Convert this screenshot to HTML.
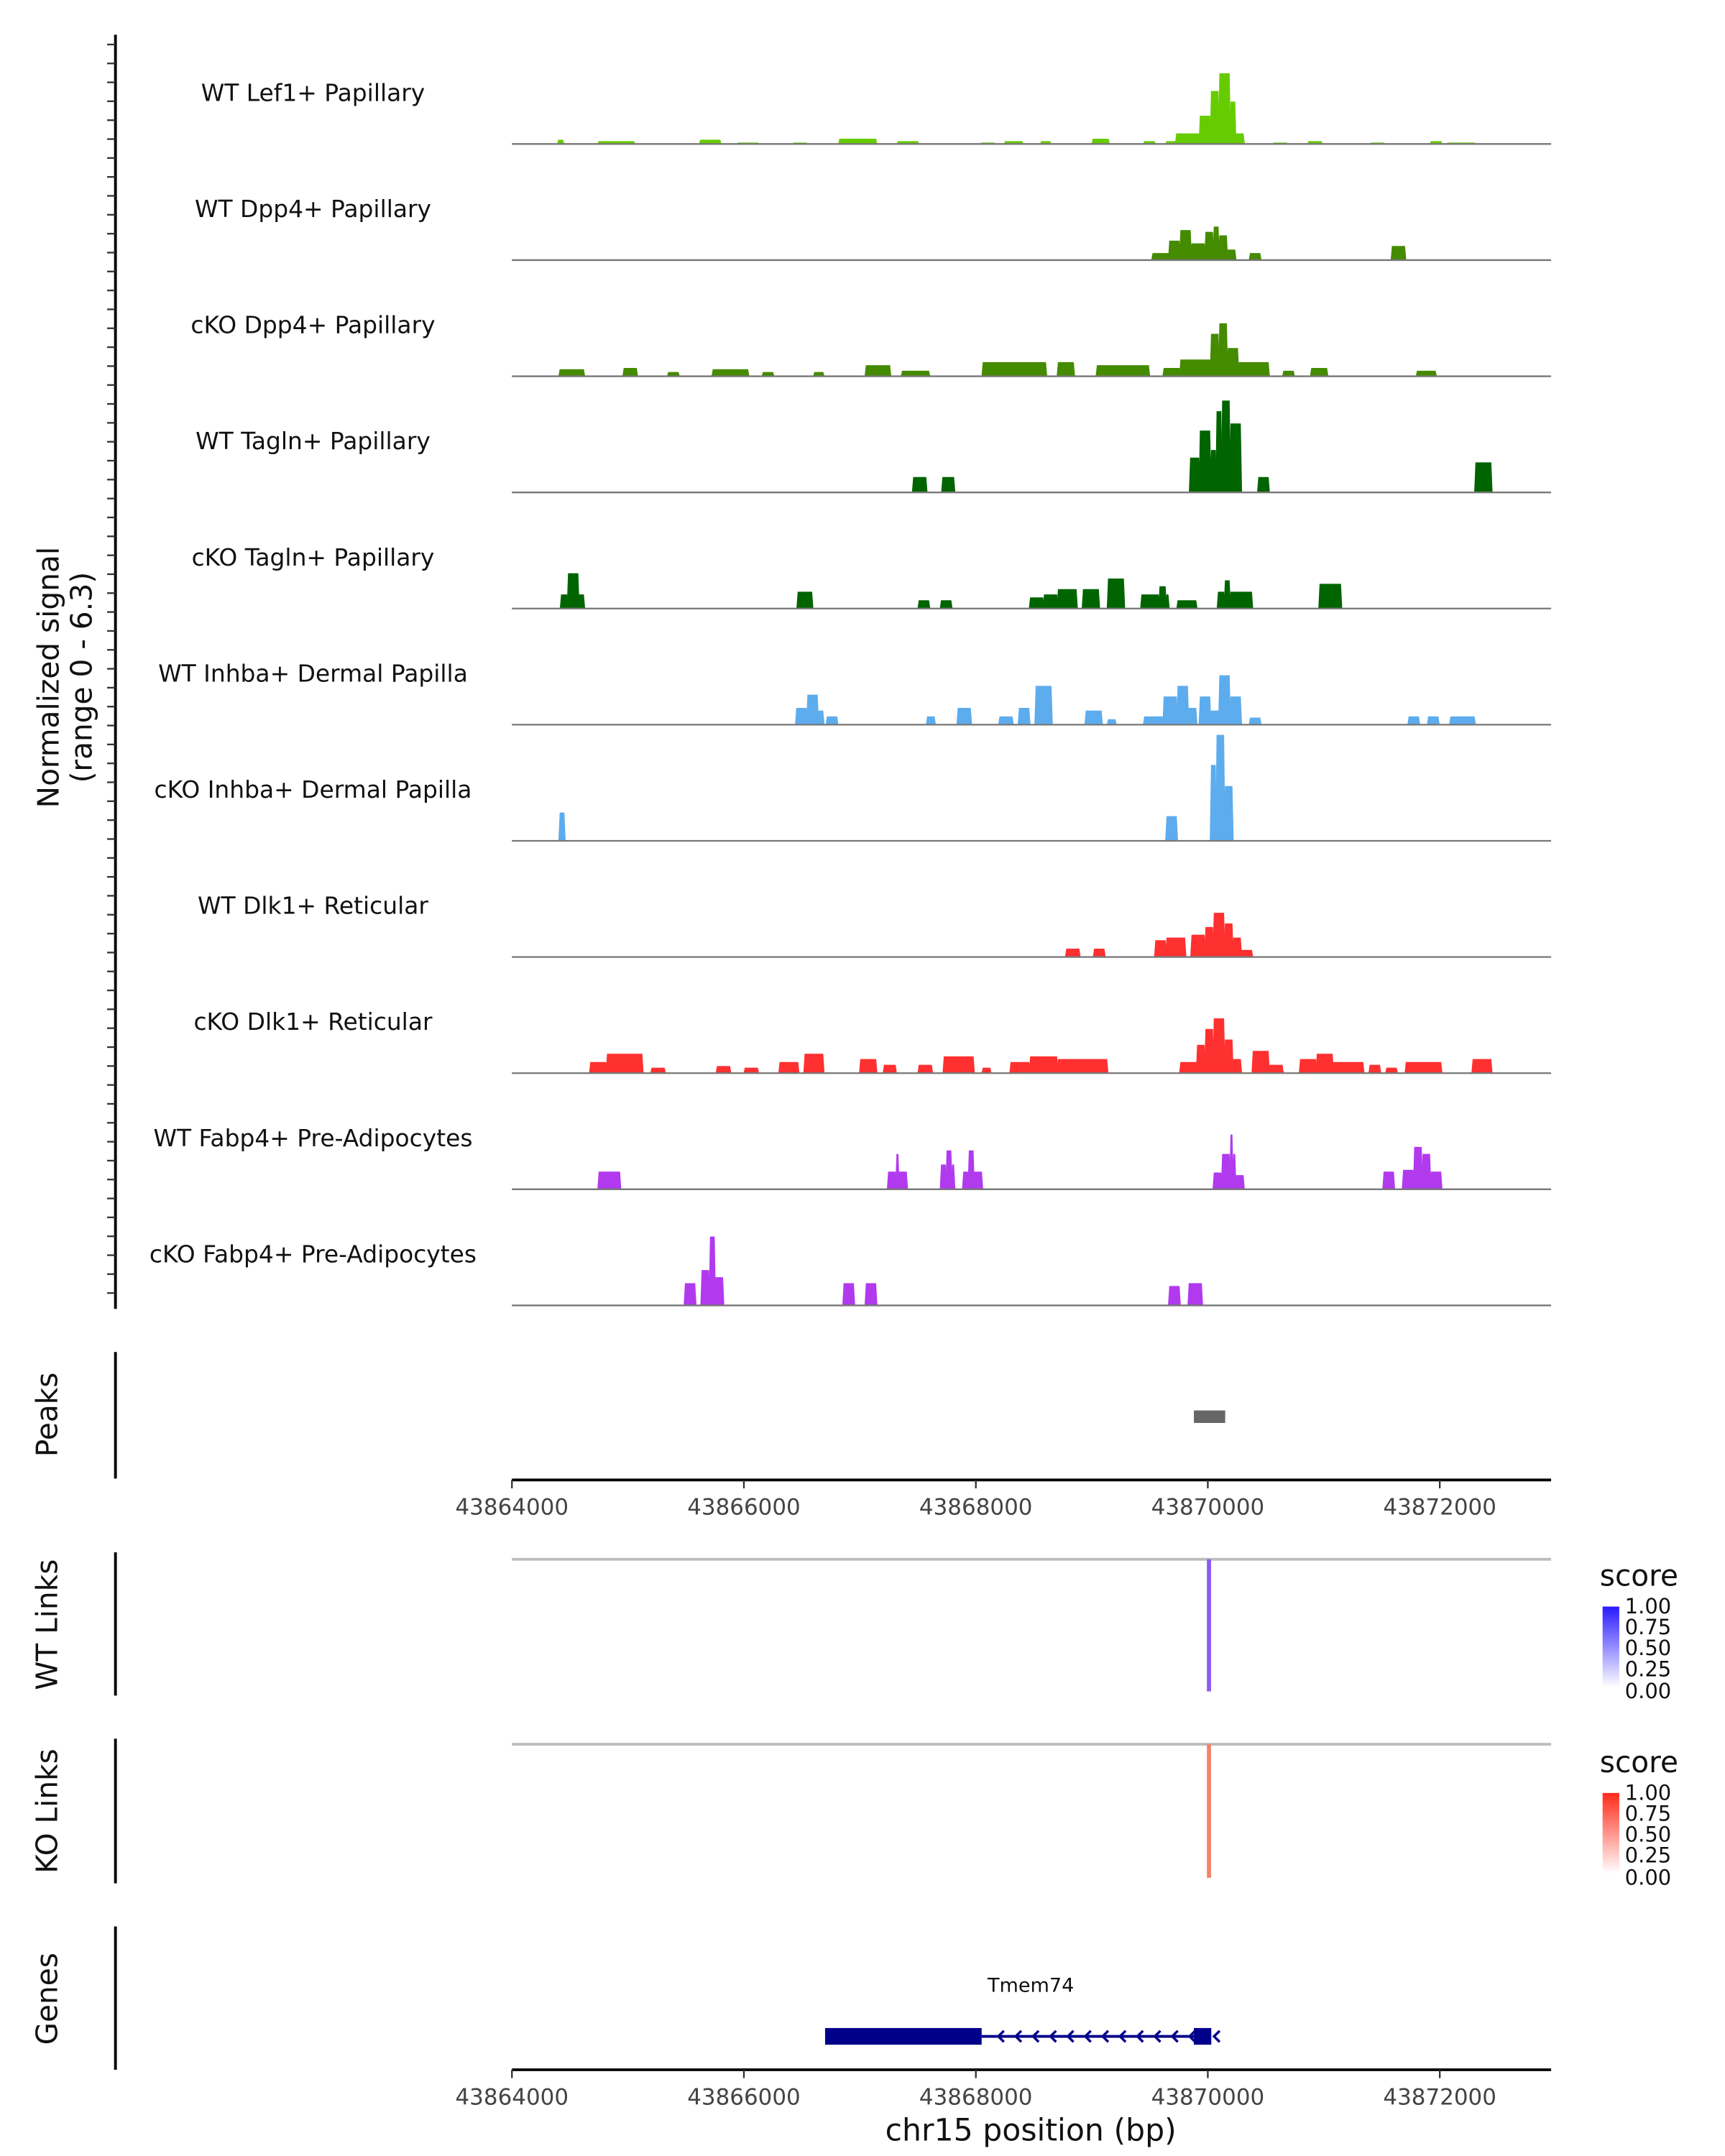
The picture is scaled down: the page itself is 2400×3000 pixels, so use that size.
<!DOCTYPE html>
<html><head><meta charset="utf-8"><style>
html,body{margin:0;padding:0;background:#fff;}
svg{display:block;font-family:"DejaVu Sans","Liberation Sans",sans-serif;}
</style></head><body>
<svg id="chart" width="2400" height="3000" viewBox="0 0 1240 1550" xmlns="http://www.w3.org/2000/svg">
<defs>
<linearGradient id="gb" x1="0" y1="1" x2="0" y2="0"><stop offset="0" stop-color="#ffffff"/><stop offset="1" stop-color="#2a1aff"/></linearGradient>
<linearGradient id="gr" x1="0" y1="1" x2="0" y2="0"><stop offset="0" stop-color="#ffffff"/><stop offset="1" stop-color="#ff2a1a"/></linearGradient>
</defs>
<g id="tracks"></g>
<g>
<line x1="83" y1="25" x2="83" y2="941" stroke="#000" stroke-width="2"/>
<g id="yticks"></g>
<text transform="translate(42,487) rotate(-90)" text-anchor="middle" font-size="21" fill="#111">Normalized signal</text>
<text transform="translate(66,487) rotate(-90)" text-anchor="middle" font-size="21" fill="#111">(range 0 - 6.3)</text>
</g>
<g>
<line x1="83" y1="972" x2="83" y2="1063" stroke="#000" stroke-width="2"/>
<text transform="translate(41,1017) rotate(-90)" text-anchor="middle" font-size="21" fill="#111">Peaks</text>
<rect id="peakrect" y="1014" height="9" fill="#666"/>
<g id="axis1"></g>
</g>
<g>
<line x1="83" y1="1116" x2="83" y2="1219" stroke="#000" stroke-width="2"/>
<text transform="translate(41,1168) rotate(-90)" text-anchor="middle" font-size="21" fill="#111">WT Links</text>
<line x1="368" y1="1121" x2="1115" y2="1121" stroke="#bdbdbd" stroke-width="2"/>
<line id="wtlink" y1="1121" y2="1216" stroke="#8a5cf0" stroke-width="3"/>
<text x="1150" y="1140" font-size="21" fill="#111">score</text>
<rect x="1152" y="1155" width="12" height="58" fill="url(#gb)"/>
<g font-size="15" fill="#111"><text x="1168" y="1160">1.00</text><text x="1168" y="1175">0.75</text><text x="1168" y="1190">0.50</text><text x="1168" y="1205">0.25</text><text x="1168" y="1221">0.00</text></g>
</g>
<g>
<line x1="83" y1="1250" x2="83" y2="1354" stroke="#000" stroke-width="2"/>
<text transform="translate(41,1302) rotate(-90)" text-anchor="middle" font-size="21" fill="#111">KO Links</text>
<line x1="368" y1="1254" x2="1115" y2="1254" stroke="#bdbdbd" stroke-width="2"/>
<line id="kolink" y1="1254" y2="1350" stroke="#f4826a" stroke-width="3"/>
<text x="1150" y="1274" font-size="21" fill="#111">score</text>
<rect x="1152" y="1289" width="12" height="58" fill="url(#gr)"/>
<g font-size="15" fill="#111"><text x="1168" y="1294">1.00</text><text x="1168" y="1309">0.75</text><text x="1168" y="1324">0.50</text><text x="1168" y="1339">0.25</text><text x="1168" y="1355">0.00</text></g>
</g>
<g>
<line x1="83" y1="1385" x2="83" y2="1488" stroke="#000" stroke-width="2"/>
<text transform="translate(41,1437) rotate(-90)" text-anchor="middle" font-size="21" fill="#111">Genes</text>
<text x="741" y="1432" text-anchor="middle" font-size="14" fill="#111">Tmem74</text>
<g id="gene"></g>
<g id="axis2"></g>
<text x="741" y="1539" text-anchor="middle" font-size="22" fill="#111">chr15 position (bp)</text>
</g>
</svg>
<script>
const regionStart = 43864000, regionEnd = 43872960;
const tickValues = [43864000, 43866000, 43868000, 43870000, 43872000];
const trackNames = ["WT Lef1+ Papillary","WT Dpp4+ Papillary","cKO Dpp4+ Papillary","WT Tagln+ Papillary","cKO Tagln+ Papillary","WT Inhba+ Dermal Papilla","cKO Inhba+ Dermal Papilla","WT Dlk1+ Reticular","cKO Dlk1+ Reticular","WT Fabp4+ Pre-Adipocytes","cKO Fabp4+ Pre-Adipocytes"];
const trackColors = ["#66cc00","#458b00","#458b00","#006400","#006400","#5cacee","#5cacee","#ff3030","#ff3030","#b23aee","#b23aee"];
const lef1WT = [[43864396,43864444,0.24],[43864744,43865056,0.16],[43865620,43865800,0.24],[43865944,43866124,0.08],[43866424,43866544,0.08],[43866820,43867144,0.3],[43867324,43867504,0.16],[43868044,43868164,0.08],[43868248,43868404,0.16],[43868560,43868644,0.16],[43869004,43869148,0.3],[43869448,43869544,0.16],[43869640,43869724,0.16],[43869724,43869928,0.6],[43869928,43870024,1.6],[43870024,43870096,3.0],[43870096,43870192,4.0],[43870192,43870240,2.4],[43870240,43870312,0.6],[43870564,43870684,0.08],[43870864,43870984,0.16],[43871404,43871524,0.08],[43871920,43872016,0.16],[43872064,43872304,0.08]];
const dpp4WT = [[43869520,43869664,0.4],[43869664,43869760,1.1],[43869760,43869856,1.7],[43869856,43869976,0.95],[43869976,43870048,1.6],[43870048,43870096,1.9],[43870096,43870168,1.4],[43870168,43870240,0.6],[43870360,43870456,0.4],[43871584,43871704,0.8]];
const dpp4KO = [[43864408,43864624,0.4],[43864960,43865080,0.47],[43865344,43865440,0.24],[43865728,43866040,0.4],[43866160,43866256,0.24],[43866604,43866688,0.24],[43867048,43867264,0.63],[43867360,43867600,0.31],[43868056,43868608,0.8],[43868704,43868848,0.8],[43869040,43869496,0.63],[43869616,43869760,0.47],[43869760,43870024,0.95],[43870024,43870096,2.4],[43870096,43870168,3.0],[43870168,43870264,1.6],[43870264,43870528,0.8],[43870648,43870744,0.31],[43870888,43871032,0.47],[43871800,43871968,0.31]];
const taglnWT = [[43867456,43867576,0.87],[43867708,43867816,0.87],[43869844,43869928,1.97],[43869928,43870024,3.5],[43870024,43870072,2.4],[43870072,43870120,4.6],[43870120,43870192,5.2],[43870192,43870288,3.9],[43870432,43870528,0.87],[43872304,43872448,1.7]];
const taglnKO = [[43864420,43864480,0.8],[43864480,43864576,2.0],[43864576,43864624,0.8],[43866460,43866592,0.95],[43867504,43867600,0.47],[43867696,43867792,0.47],[43868464,43868584,0.63],[43868584,43868704,0.8],[43868704,43868872,1.1],[43868920,43869064,1.1],[43869136,43869280,1.7],[43869424,43869580,0.8],[43869580,43869640,1.26],[43869640,43869664,0.8],[43869736,43869904,0.47],[43870084,43870144,0.95],[43870144,43870192,1.6],[43870192,43870384,0.95],[43870960,43871152,1.4]];
const inhbaWT = [[43866448,43866544,0.95],[43866544,43866640,1.7],[43866640,43866688,0.8],[43866712,43866808,0.47],[43867576,43867648,0.47],[43867840,43867960,0.95],[43868200,43868320,0.47],[43868368,43868464,0.95],[43868512,43868656,2.2],[43868944,43869088,0.8],[43869136,43869208,0.31],[43869448,43869616,0.47],[43869616,43869736,1.6],[43869736,43869832,2.2],[43869832,43869904,0.95],[43869928,43870024,1.6],[43870024,43870096,0.8],[43870096,43870192,2.8],[43870192,43870288,1.6],[43870360,43870456,0.4],[43871728,43871824,0.47],[43871896,43871992,0.47],[43872088,43872304,0.47]];
const inhbaKO = [[43864408,43864456,1.6],[43869640,43869736,1.4],[43870024,43870072,4.3],[43870072,43870144,6.0],[43870144,43870216,3.1]];
const dlk1WT = [[43868776,43868896,0.47],[43869016,43869112,0.47],[43869544,43869640,0.95],[43869640,43869808,1.1],[43869856,43869976,1.26],[43869976,43870048,1.7],[43870048,43870144,2.5],[43870144,43870216,1.9],[43870216,43870288,1.1],[43870288,43870384,0.4]];
const dlk1KO = [[43864672,43864816,0.63],[43864816,43865128,1.1],[43865200,43865320,0.31],[43865764,43865884,0.4],[43866004,43866124,0.31],[43866304,43866472,0.63],[43866520,43866688,1.1],[43867000,43867144,0.8],[43867204,43867312,0.47],[43867504,43867624,0.47],[43867720,43867984,0.95],[43868056,43868128,0.31],[43868296,43868464,0.63],[43868464,43868704,0.95],[43868704,43869136,0.8],[43869760,43869904,0.63],[43869904,43869976,1.6],[43869976,43870048,2.5],[43870048,43870144,3.1],[43870144,43870216,1.9],[43870216,43870288,0.8],[43870384,43870528,1.26],[43870528,43870648,0.47],[43870792,43870936,0.8],[43870936,43871080,1.1],[43871080,43871344,0.63],[43871392,43871488,0.47],[43871536,43871632,0.31],[43871704,43872016,0.63],[43872280,43872448,0.8]];
const fabp4WT = [[43864744,43864936,1.0],[43867240,43867312,1.0],[43867312,43867336,2.0],[43867336,43867408,1.0],[43867696,43867744,1.4],[43867744,43867792,2.2],[43867792,43867816,1.4],[43867888,43867936,1.0],[43867936,43867984,2.2],[43867984,43868056,1.0],[43870048,43870120,0.95],[43870120,43870192,2.0],[43870192,43870216,3.1],[43870216,43870240,2.0],[43870240,43870312,0.8],[43871512,43871608,1.0],[43871680,43871776,1.1],[43871776,43871848,2.4],[43871848,43871920,2.0],[43871920,43872016,1.0]];
const fabp4KO = [[43865488,43865584,1.26],[43865632,43865704,2.0],[43865704,43865752,3.9],[43865752,43865824,1.6],[43866856,43866952,1.26],[43867048,43867144,1.26],[43869664,43869760,1.1],[43869832,43869952,1.26]];
const trackData = [lef1WT,dpp4WT,dpp4KO,taglnWT,taglnKO,inhbaWT,inhbaKO,dlk1WT,dlk1KO,fabp4WT,fabp4KO];
const peakRegion = [43869880, 43870150];
const wtLinkPos = [43870010];
const koLinkPos = [43870010];
const geneThick = [43866700, 43868050];
const geneSpan = [43868050, 43870000];
const geneEndExon = [43869880, 43870030];

const NS = "http://www.w3.org/2000/svg";
const X0 = 368, X1 = 1115, yMax = 6.3, trackH = 80;
function xScale(bp){ return X0 + (bp - regionStart) / (regionEnd - regionStart) * (X1 - X0); }
function yScale(v, base){ return base - v / yMax * trackH; }
function mk(tag, attrs, parent){ const e = document.createElementNS(NS, tag); for (const k in attrs) e.setAttribute(k, attrs[k]); parent.appendChild(e); return e; }

const tracksG = document.getElementById('tracks');
trackNames.forEach((name, i) => {
  const base = 103.5 + i * 83.5;
  const g = mk('g', {}, tracksG);
  
  
  const lbl = mk('text', {x: 225, y: base - 31, 'text-anchor': 'middle', 'font-size': 17, fill: '#111'}, g);
  lbl.textContent = name;
  
  
  trackData[i].forEach(seg => {
    const xa = xScale(seg[0]), xb = xScale(seg[1]), yt = yScale(seg[2], base);
    const p = mk('polygon', {points: `${xa-0.6},${base} ${xa+0.3},${yt} ${xb-0.3},${yt} ${xb+0.6},${base}`, fill: trackColors[i]}, g);
    
    
  });
  const bl = mk('line', {x1: X0, x2: X1, y1: base, y2: base, stroke: '#777', 'stroke-width': 1.2}, g);
  
  
});

const yt = document.getElementById('yticks');
for (let y = 32; y <= 940; y += 13.6) mk('line', {x1: 77, x2: 83, y1: y, y2: y, stroke: '#333', 'stroke-width': 1.2}, yt);

const pr = document.getElementById('peakrect');
pr.setAttribute('x', xScale(peakRegion[0]));
pr.setAttribute('width', xScale(peakRegion[1]) - xScale(peakRegion[0]));

function drawAxis(id, y){
  const g = document.getElementById(id);
  mk('line', {x1: X0, x2: X1, y1: y, y2: y, stroke: '#000', 'stroke-width': 2}, g);
  tickValues.forEach(t => {
    const x = xScale(t);
    mk('line', {x1: x, x2: x, y1: y, y2: y + 6, stroke: '#333', 'stroke-width': 1.2}, g);
    const tx = mk('text', {x: x, y: y + 25, 'text-anchor': 'middle', 'font-size': 16, fill: '#444'}, g);
    tx.textContent = t;
    
    
  });
}
drawAxis('axis1', 1064);
drawAxis('axis2', 1488);

const wl = document.getElementById('wtlink');
wl.setAttribute('x1', xScale(wtLinkPos[0])); wl.setAttribute('x2', xScale(wtLinkPos[0]));
const kl = document.getElementById('kolink');
kl.setAttribute('x1', xScale(koLinkPos[0])); kl.setAttribute('x2', xScale(koLinkPos[0]));

const gg = document.getElementById('gene');
const gy = 1464;
mk('rect', {x: xScale(geneThick[0]), y: gy - 6, width: xScale(geneThick[1]) - xScale(geneThick[0]), height: 12, fill: '#00008b'}, gg);
mk('line', {x1: xScale(geneSpan[0]), x2: xScale(geneSpan[1]), y1: gy, y2: gy, stroke: '#00008b', 'stroke-width': 2}, gg);
mk('rect', {x: xScale(geneEndExon[0]), y: gy - 6, width: xScale(geneEndExon[1]) - xScale(geneEndExon[0]), height: 12, fill: '#00008b'}, gg);
for (let x = xScale(geneSpan[0]) + 12; x < xScale(geneEndExon[0]); x += 12.5) {
  mk('polyline', {points: `${x+4},${gy-4} ${x},${gy} ${x+4},${gy+4}`, fill: 'none', stroke: '#00008b', 'stroke-width': 1.8}, gg);
}
const xe = xScale(geneEndExon[1]) + 2;
mk('polyline', {points: `${xe+4},${gy-4} ${xe},${gy} ${xe+4},${gy+4}`, fill: 'none', stroke: '#00008b', 'stroke-width': 1.8}, gg);
</script>
</body></html>
